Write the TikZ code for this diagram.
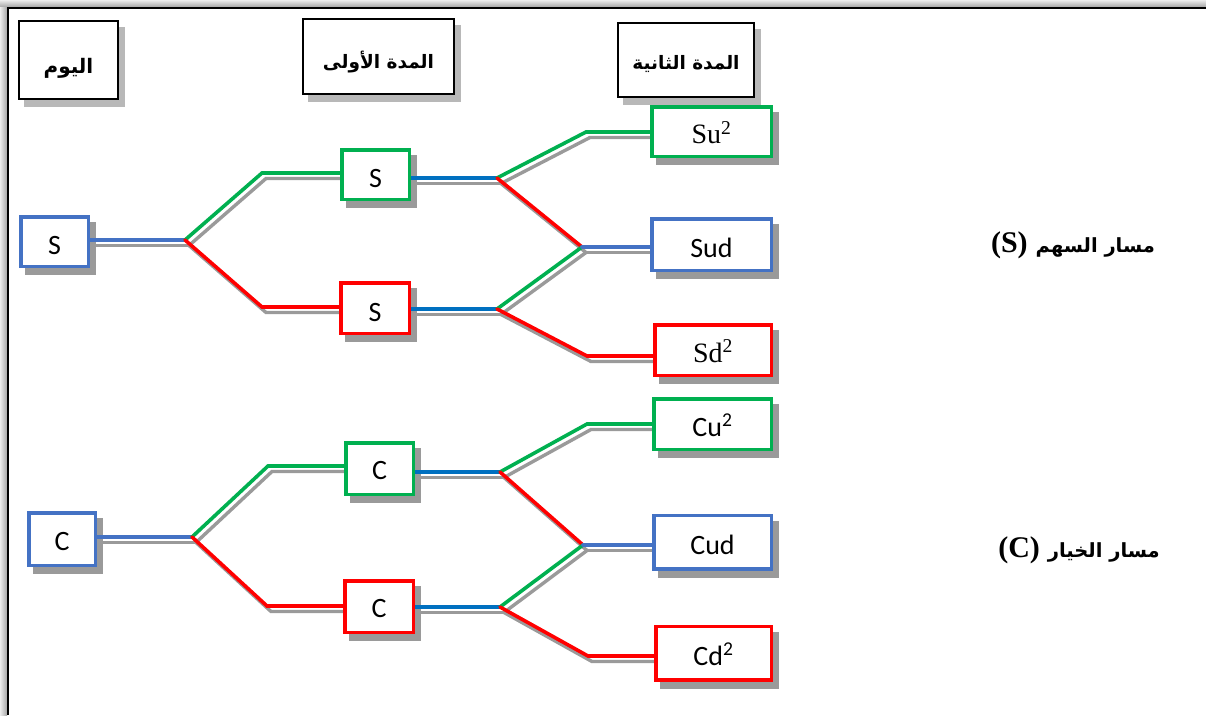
\documentclass[tikz,border=0pt]{standalone}
\usepackage{fontspec}
\setmainfont{Carlito}
\newfontfamily\arabicfont[Script=Arabic]{DejaVu Sans}
\newfontfamily\seriffont{Liberation Serif}
\TeXXeTstate=1
\usetikzlibrary{calc}
\pgfdeclarelayer{bg}
\pgfdeclarelayer{nshadow}
\pgfdeclarelayer{lshadow}
\pgfdeclarelayer{lines}
\pgfsetlayers{bg,nshadow,lshadow,lines,main}
\definecolor{cgreen}{HTML}{00B050}
\definecolor{cred}{HTML}{FF0000}
\definecolor{cblue}{HTML}{4472C4}
\definecolor{cdblue}{HTML}{0070C0}
\definecolor{shgray}{HTML}{9A9A9A}
\definecolor{hshgray}{HTML}{B8B8B8}
\newcommand\lowr[2]{\raisebox{-#1}[0pt][0pt]{#2}}
\newcommand\conn[2]{%
  \begin{pgfonlayer}{lshadow}\draw[lsh] #2;\end{pgfonlayer}%
  \begin{pgfonlayer}{lines}\draw[ln,#1] #2;\end{pgfonlayer}}
\begin{document}
\begin{tikzpicture}[x=1pt,y=-1pt,
  box/.style={draw, fill=white, line width=3.5pt, inner sep=0pt,
    font=\fontsize{28}{28}\selectfont},
  gbox/.style={box, draw=cgreen},
  rbox/.style={box, draw=cred},
  bbox/.style={box, draw=cblue},
  head/.style={draw=black, fill=white, line width=1.8pt, inner sep=0pt,
    font=\arabicfont\bfseries\fontsize{18.5}{18.5}\selectfont},
  side/.style={inner sep=0pt, anchor=base},
  ln/.style={line width=3.6pt, line cap=round, line join=miter},
  lsh/.style={draw=shgray, line width=3.4pt, line cap=round,
    transform canvas={shift={(4pt,-5.5pt)}}}]
\useasboundingbox (0,0) rectangle (1206,715);
\begin{pgfonlayer}{bg}
\fill[white] (0,0) rectangle (1206,715);
\shade[top color=gray!15, bottom color=gray!70] (0,0) rectangle (1206,7);
\shade[left color=gray!15, right color=gray!70] (0,7) rectangle (7,715);
\end{pgfonlayer}
\draw[line width=2.5pt] (8.2,715) -- (8.2,8.2) -- (1206,8.2);
% headers
\node[head, minimum width=99.5pt, minimum height=78.5pt] (h0) at (68.5,60)
  {\lowr{13pt}{\fontsize{20}{20}\selectfont\beginR اليوم\endR}};
\node[head, minimum width=151.5pt, minimum height=75.5pt] (h1) at (378.5,56.5)
  {\lowr{12pt}{\beginR المدة الأولى\endR}};
\node[head, minimum width=136.5pt, minimum height=74.5pt] (h2) at (686,60)
  {\lowr{9pt}{\beginR المدة الثانية\endR}};
% stock tree
\node[bbox, minimum width=67.5pt, minimum height=49.5pt] (S0) at (54.5,241.5) {\lowr{13pt}{S}};
\node[gbox, minimum width=67.5pt, minimum height=49.5pt] (S1u) at (375.5,174.5) {\lowr{13pt}{S}};
\node[rbox, minimum width=68.5pt, minimum height=50.5pt] (S1d) at (375,308) {\lowr{13pt}{S}};
\node[gbox, minimum width=119.5pt, minimum height=49.5pt] (Su2) at (711.5,131.5) {\lowr{12pt}{\seriffont Su\textsuperscript{2}}};
\node[bbox, minimum width=119.5pt, minimum height=51.5pt] (Sud) at (711.5,244.5) {\lowr{12.5pt}{Sud}};
\node[rbox, minimum width=116.5pt, minimum height=50.5pt] (Sd2) at (713,350) {\lowr{12pt}{\seriffont Sd\textsuperscript{2}}};
% option tree
\node[bbox, minimum width=66.5pt, minimum height=52.5pt] (C0) at (62,539) {\lowr{11pt}{C}};
\node[gbox, minimum width=67.5pt, minimum height=51.5pt] (C1u) at (379.5,468.5) {\lowr{11pt}{C}};
\node[rbox, minimum width=68.5pt, minimum height=51.5pt] (C1d) at (379,606.5) {\lowr{11pt}{C}};
\node[gbox, minimum width=117.5pt, minimum height=50.5pt] (Cu2) at (712.5,424) {\lowr{12pt}{Cu\textsuperscript{2}}};
\node[bbox, minimum width=117.5pt, minimum height=53.5pt] (Cud) at (712.5,542) {\lowr{12pt}{Cud}};
\node[rbox, minimum width=115.5pt, minimum height=53.5pt] (Cd2) at (713.5,653) {\lowr{12pt}{Cd\textsuperscript{2}}};
% side labels
\node[side] (LS) at (1073,252) {{\seriffont\bfseries\fontsize{30}{30}\selectfont (S)}\hspace{8pt}{\arabicfont\bfseries\fontsize{19.5}{19.5}\selectfont\beginR مسار السهم\endR}};
\node[side] (LC) at (1079,557) {{\seriffont\bfseries\fontsize{30}{30}\selectfont (C)}\hspace{8pt}{\arabicfont\bfseries\fontsize{19.5}{19.5}\selectfont\beginR مسار الخيار\endR}};
% node shadows
\begin{pgfonlayer}{nshadow}
\foreach \n in {S0,S1u,S1d,Su2,Sud,Sd2,C0,C1u,C1d,Cu2,Cud,Cd2}
  \fill[shgray] ([shift={(6pt,-7pt)}]\n.south west) rectangle ([shift={(6pt,-7pt)}]\n.north east);
\foreach \n in {h0,h1,h2}
  \fill[hshgray] ([shift={(6pt,-7pt)}]\n.south west) rectangle ([shift={(6pt,-7pt)}]\n.north east);
\end{pgfonlayer}
% junction coordinates
\coordinate (b0) at (185,240);
\coordinate (gU1) at (262,173);
\coordinate (rD1) at (262,307);
\coordinate (b1u) at (497,178);
\coordinate (gU2) at (586,132);
\coordinate (m1) at (582,247);
\coordinate (b1d) at (497,309);
\coordinate (rD2) at (587,356);
\coordinate (c0) at (192,537);
\coordinate (gC1) at (268,466);
\coordinate (rC1) at (267,606);
\coordinate (c1u) at (500,472);
\coordinate (gC2) at (587,424);
\coordinate (m2) at (583,545);
\coordinate (c1d) at (500,607);
\coordinate (rC2) at (588,656);
% stock connectors
\conn{cblue}{(S0.east |- b0) -- (b0)}
\conn{cgreen}{(b0) -- (gU1) -- (S1u.west |- gU1)}
\conn{cred}{(b0) -- (rD1) -- (S1d.west |- rD1)}
\conn{cdblue}{(S1u.east |- b1u) -- (b1u)}
\conn{cdblue}{(S1d.east |- b1d) -- (b1d)}
\conn{cgreen}{(b1u) -- (gU2) -- (Su2.west |- gU2)}
\conn{cred}{(b1u) -- (m1)}
\conn{cgreen}{(b1d) -- (m1)}
\conn{cblue}{(m1) -- (Sud.west |- m1)}
\conn{cred}{(b1d) -- (rD2) -- (Sd2.west |- rD2)}
% option connectors
\conn{cblue}{(C0.east |- c0) -- (c0)}
\conn{cgreen}{(c0) -- (gC1) -- (C1u.west |- gC1)}
\conn{cred}{(c0) -- (rC1) -- (C1d.west |- rC1)}
\conn{cdblue}{(C1u.east |- c1u) -- (c1u)}
\conn{cdblue}{(C1d.east |- c1d) -- (c1d)}
\conn{cgreen}{(c1u) -- (gC2) -- (Cu2.west |- gC2)}
\conn{cred}{(c1u) -- (m2)}
\conn{cgreen}{(c1d) -- (m2)}
\conn{cblue}{(m2) -- (Cud.west |- m2)}
\conn{cred}{(c1d) -- (rC2) -- (Cd2.west |- rC2)}
\end{tikzpicture}
\end{document}
